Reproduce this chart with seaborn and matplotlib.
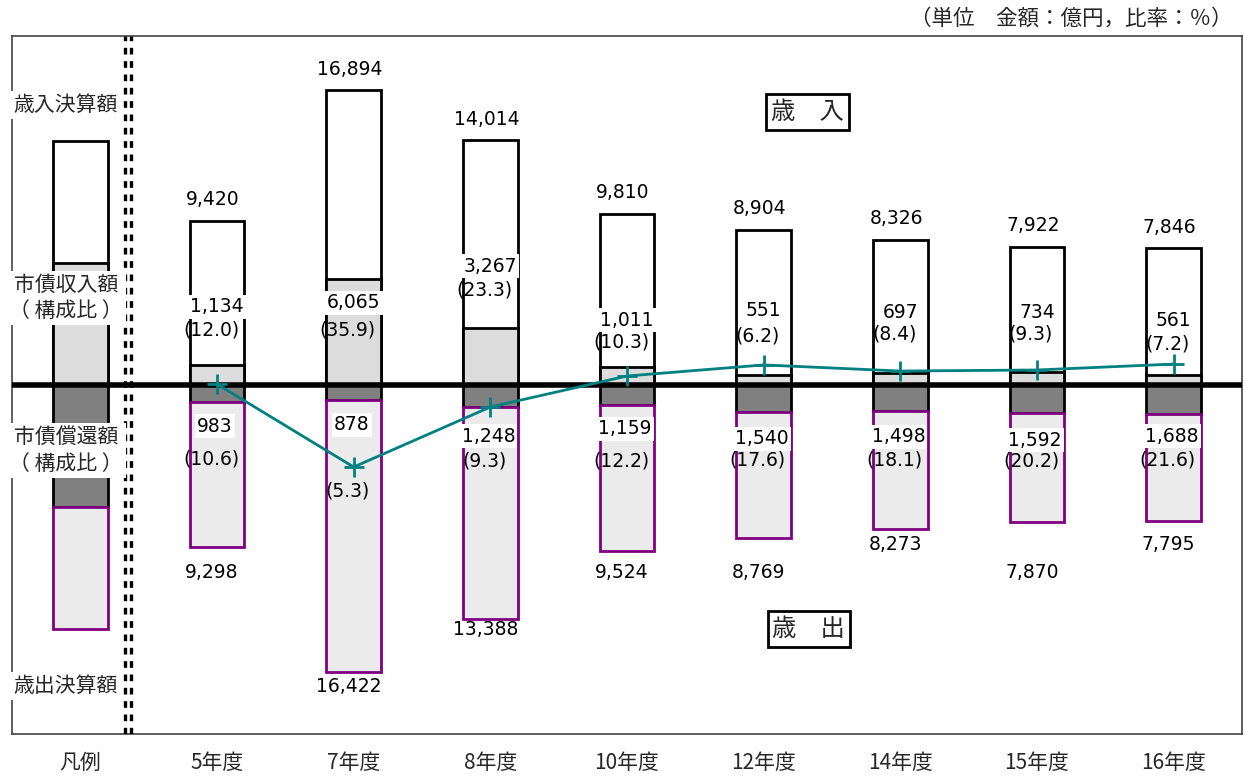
import numpy as np
import pandas as pd
import matplotlib
matplotlib.use("Agg")
import matplotlib.pyplot as plt
import seaborn as sns

# ---------------- data ----------------
years = ["5年度", "7年度", "8年度", "10年度", "12年度", "14年度", "15年度", "16年度"]
revenue_total = [9420, 16894, 14014, 9810, 8904, 8326, 7922, 7846]
bond_revenue = [1134, 6065, 3267, 1011, 551, 697, 734, 561]
bond_revenue_ratio = [12.0, 35.9, 23.3, 10.3, 6.2, 8.4, 9.3, 7.2]
expenditure_total = [9298, 16422, 13388, 9524, 8769, 8273, 7870, 7795]
bond_repayment = [983, 878, 1248, 1159, 1540, 1498, 1592, 1688]
bond_repayment_ratio = [10.6, 5.3, 9.3, 12.2, 17.6, 18.1, 20.2, 21.6]
trend_line = [50, -4700, -1260, 515, 1150, 800, 860, 1200]

legend_cat = "凡例"
legend_total = 14000   # schematic legend bar
legend_part = 7000

# ---------------- layout (pixel offsets of labels) ----------------
rev_val_up = [78, 82, 119, 65, 75, 72, 72, 65]
rev_ratio_up = [55, 55, 95, 43, 49, 51, 51, 41]
rep_val_down = [41, 40, 51, 44, 54, 52, 55, 51]
rep_ratio_down = [74, 106, 76, 76, 75, 75, 76, 75]
exp_total_down = [25, 15, 11, 21, 34, 15, 50, 23]

sns.set_theme(style="white")
plt.rcParams["font.family"] = ["Noto Sans CJK JP", "DejaVu Sans"]

cats = [legend_cat] + years
df = pd.DataFrame({
    "cat": cats,
    "rev_total": [legend_total] + revenue_total,
    "rev_bond": [legend_part] + bond_revenue,
    "exp_total": [legend_total] + expenditure_total,
    "exp_repay": [legend_part] + bond_repayment,
})
df["exp_box"] = -(df["exp_total"] - df["exp_repay"])
df["exp_box_bottom"] = -df["exp_repay"]
df["repay_neg"] = -df["exp_repay"]

W, H = 1244, 776
fig = plt.figure(figsize=(W / 100, H / 100), dpi=100)
ax = fig.add_axes([12 / W, 42 / H, 1230 / W, 698 / H])

common = dict(order=cats, width=0.4, saturation=1, errorbar=None, ax=ax)
sns.barplot(data=df, x="cat", y="rev_total", color="white", edgecolor="black",
            linewidth=2, zorder=2, **common)
sns.barplot(data=df, x="cat", y="rev_bond", color="#dcdcdc", edgecolor="black",
            linewidth=2, zorder=2.1, **common)
sns.barplot(data=df, x="cat", y="repay_neg", color="#808080", edgecolor="black",
            linewidth=2, zorder=2.1, **common)
sns.barplot(data=df, x="cat", y="exp_box", color="#ebebeb", edgecolor="#800080",
            linewidth=2, zorder=2.2, bottom=df["exp_box_bottom"].values, **common)

ax.set_xlim(-0.5, 8.5)
ax.set_ylim(-20000, 20000)

# zero line
ax.axhline(0, color="black", lw=4, zorder=4)

# trend line
xs = np.arange(1, len(years) + 1)
sns.lineplot(x=xs, y=trend_line, color="#008080", marker="+", markersize=14,
             markeredgewidth=2, markeredgecolor="#008080", linewidth=2,
             ax=ax, zorder=6)

# dotted separator
for xv in (0.325, 0.373):
    ax.axvline(xv, color="black", lw=2.4, ls=(0, (2, 2)), zorder=3)

num_font = dict(family="DejaVu Sans", fontsize=13.5, color="black")
wbox = dict(boxstyle="square,pad=0.12", fc="white", ec="none")

for i, yr in enumerate(years):
    x = i + 1
    ax.annotate(f"{revenue_total[i]:,}", xy=(x, revenue_total[i]), xytext=(-4, 21),
                textcoords="offset pixels", ha="center", va="center", zorder=7, **num_font)
    ax.annotate(f"{bond_revenue[i]:,}", xy=(x, 0), xytext=(0, rev_val_up[i]),
                textcoords="offset pixels", ha="center", va="center", zorder=7,
                bbox=wbox, **num_font)
    ax.annotate(f"({bond_revenue_ratio[i]:.1f})", xy=(x, 0), xytext=(-6, rev_ratio_up[i]),
                textcoords="offset pixels", ha="center", va="center", zorder=7, **num_font)
    ax.annotate(f"{bond_repayment[i]:,}", xy=(x, 0), xytext=(-2, -rep_val_down[i]),
                textcoords="offset pixels", ha="center", va="center", zorder=7,
                bbox=wbox, **num_font)
    ax.annotate(f"({bond_repayment_ratio[i]:.1f})", xy=(x, 0), xytext=(-6, -rep_ratio_down[i]),
                textcoords="offset pixels", ha="center", va="center", zorder=7, **num_font)
    ax.annotate(f"{expenditure_total[i]:,}", xy=(x, -expenditure_total[i]),
                xytext=(-5, -exp_total_down[i]),
                textcoords="offset pixels", ha="center", va="center", zorder=7, **num_font)

# legend texts
lab_kw = dict(ha="center", va="center", fontsize=15, zorder=7,
              bbox=dict(boxstyle="square,pad=0.15", fc="white", ec="none"))
lx = -0.105
ax.text(lx, 16050, "歳入決算額", **lab_kw)
ax.text(lx, 5000, "市債収入額\n（ 構成比 ）", linespacing=1.25, **lab_kw)
ax.text(lx, -3750, "市債償還額\n（ 構成比 ）", linespacing=1.25, **lab_kw)
ax.text(lx, -17250, "歳出決算額", **lab_kw)

# boxed section labels
box_kw = dict(ha="center", va="center", fontsize=17.5, zorder=7,
              bbox=dict(boxstyle="square,pad=0.2", fc="white", ec="black", lw=2))
ax.text(5.32, 15650, "歳　入", **box_kw)
ax.text(5.33, -13980, "歳　出", **box_kw)

# axes styling
ax.set_xticks(range(len(cats)))
ax.set_xticklabels(cats, fontsize=15)
ax.tick_params(axis="x", length=0, pad=13)
ax.set_yticks([])
ax.set_xlabel("")
ax.set_ylabel("")
for s in ax.spines.values():
    s.set_visible(True)
    s.set_color("#444444")
    s.set_linewidth(1.2)

fig.text(1232 / W, 1 - 19 / H, "（単位　金額：億円，比率：％）", ha="right", va="center",
         fontsize=15.5)

fig.savefig("out.png", dpi=100)
